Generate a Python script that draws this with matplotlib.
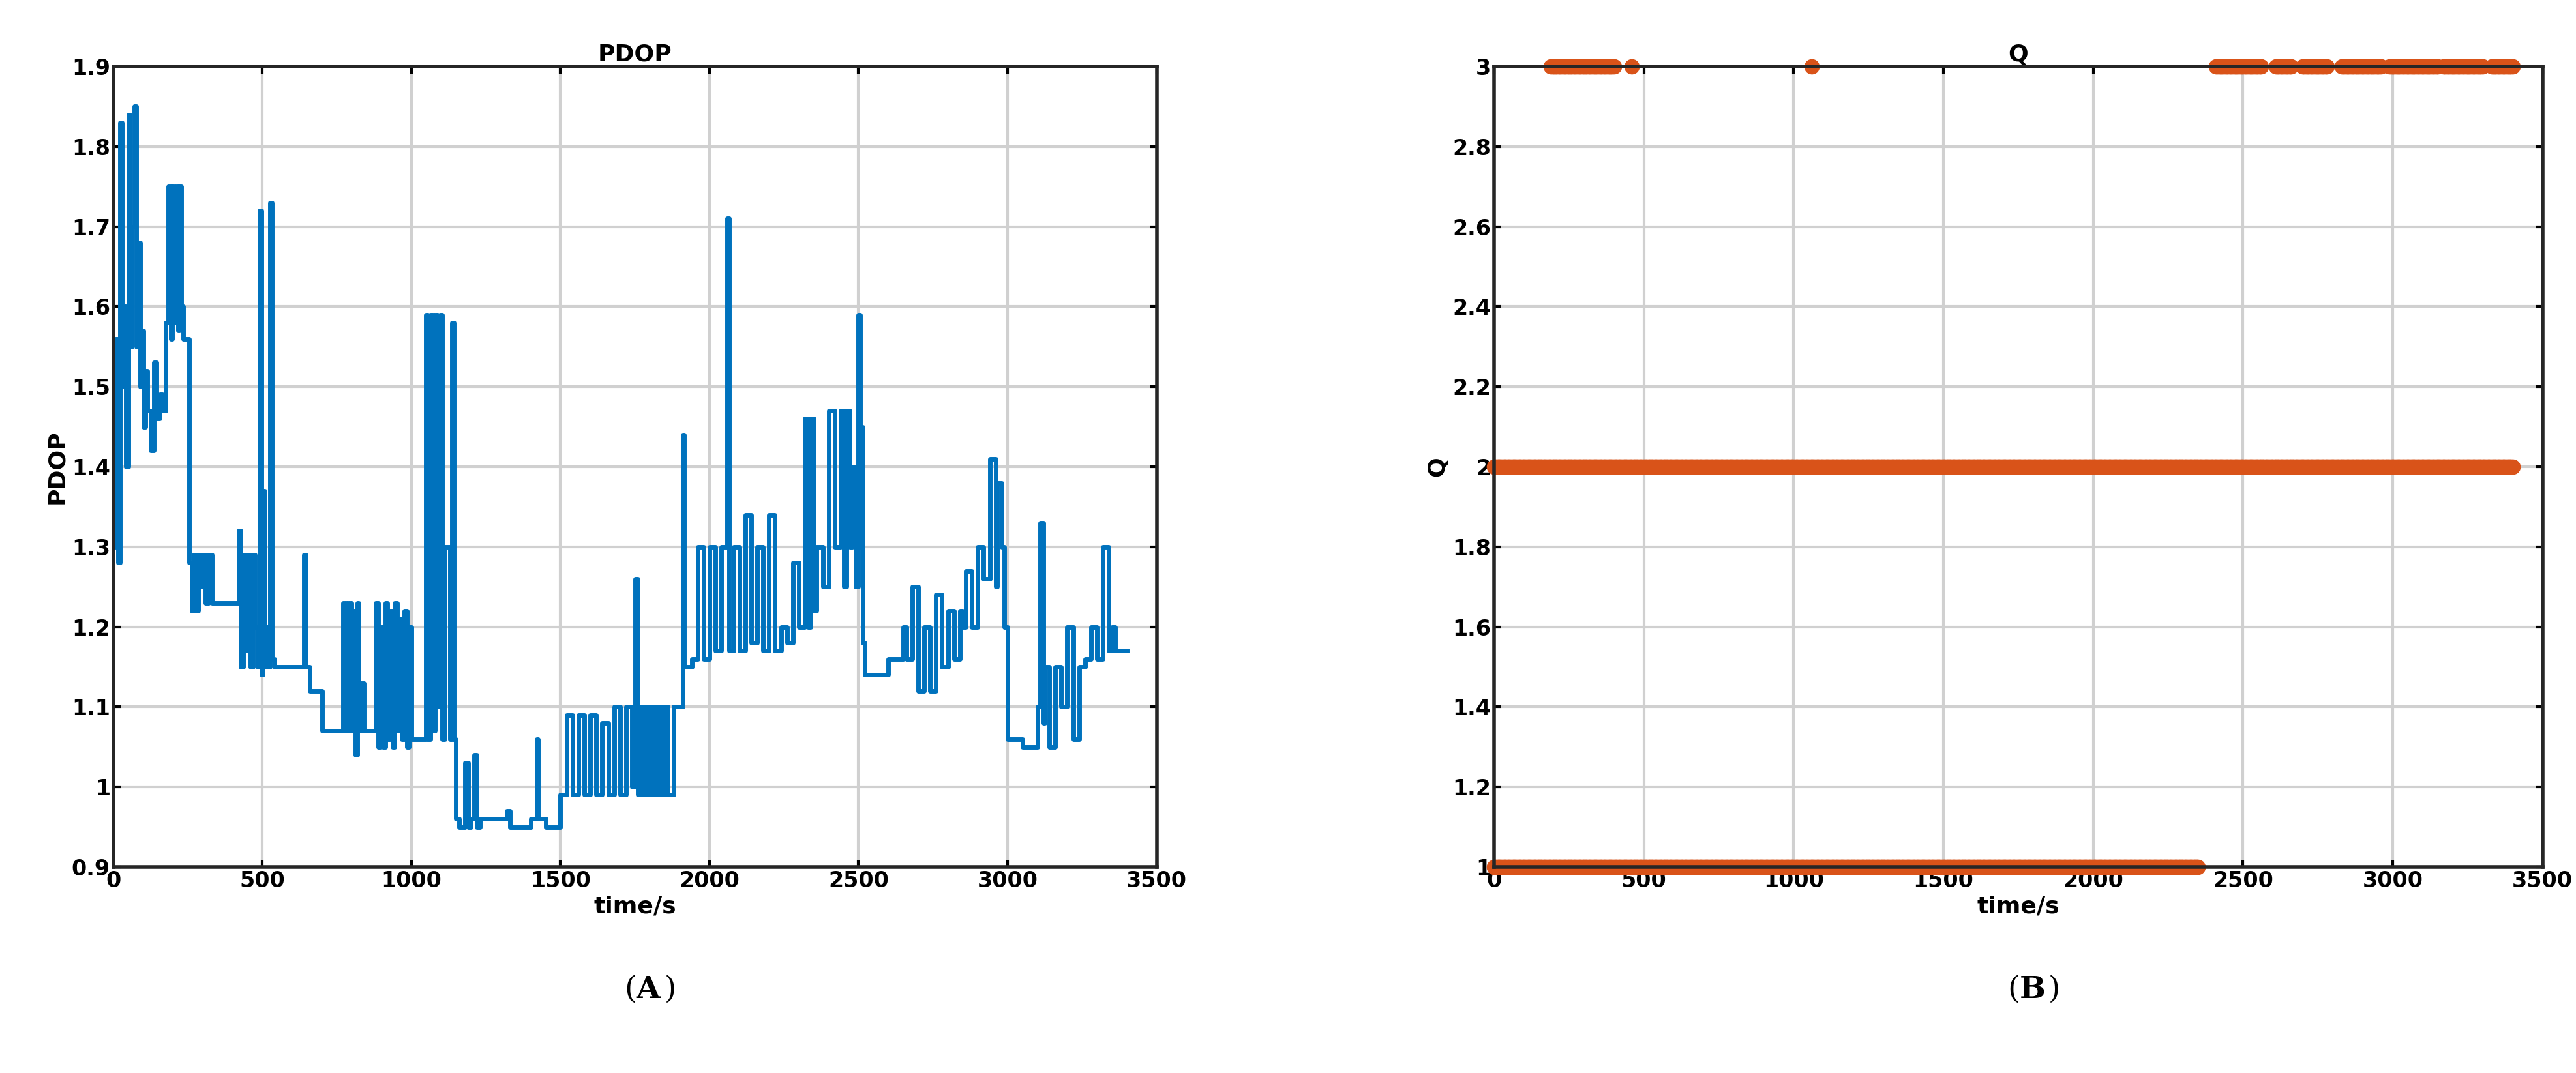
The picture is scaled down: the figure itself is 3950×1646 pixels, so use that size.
import numpy as np
import matplotlib
matplotlib.use("Agg")
import matplotlib.pyplot as plt

# PDOP step breakpoints (time s, value)
pdop_t = [0,8,15,22,28,35,42,50,56,62,70,78,84,90,96,102,108,115,125,135,145,155,165,175,185,192,198,204,210,216,222,228,235,245,255,262,270,278,285,292,300,310,320,330,360,400,420,428,436,444,452,460,468,476,484,490,496,502,508,514,520,526,532,540,600,640,645,660,700,760,770,776,782,788,794,800,806,812,818,824,830,840,870,880,888,896,904,912,920,928,936,944,952,960,968,976,984,992,1000,1040,1048,1056,1064,1072,1080,1088,1096,1104,1112,1130,1136,1142,1150,1160,1180,1190,1200,1210,1220,1230,1240,1300,1320,1330,1400,1420,1425,1450,1500,1520,1540,1560,1580,1600,1620,1640,1660,1680,1700,1720,1740,1750,1760,1770,1780,1790,1800,1810,1820,1830,1840,1850,1860,1880,1900,1910,1915,1940,1960,1980,2000,2020,2040,2060,2065,2080,2100,2120,2140,2160,2180,2200,2220,2240,2260,2280,2300,2320,2330,2340,2350,2360,2380,2400,2420,2440,2450,2460,2470,2480,2490,2500,2505,2510,2515,2520,2530,2600,2650,2660,2680,2700,2720,2740,2760,2780,2800,2820,2840,2850,2860,2880,2900,2920,2940,2960,2965,2980,2990,3000,3010,3050,3100,3110,3120,3125,3140,3160,3180,3200,3220,3240,3260,3280,3300,3320,3340,3350,3360,3380,3400]
pdop_v = [1.30,1.56,1.28,1.83,1.50,1.60,1.40,1.84,1.55,1.70,1.85,1.55,1.68,1.50,1.57,1.45,1.52,1.47,1.42,1.53,1.46,1.49,1.47,1.58,1.75,1.56,1.75,1.58,1.75,1.57,1.75,1.60,1.56,1.56,1.28,1.22,1.29,1.22,1.29,1.25,1.29,1.23,1.29,1.23,1.23,1.23,1.32,1.15,1.29,1.17,1.29,1.15,1.29,1.20,1.15,1.72,1.14,1.37,1.15,1.20,1.15,1.73,1.16,1.15,1.15,1.29,1.15,1.12,1.07,1.07,1.23,1.07,1.23,1.07,1.23,1.07,1.22,1.04,1.23,1.07,1.13,1.07,1.07,1.23,1.05,1.20,1.05,1.23,1.06,1.22,1.05,1.23,1.07,1.21,1.06,1.22,1.05,1.20,1.06,1.06,1.59,1.06,1.59,1.07,1.59,1.10,1.59,1.06,1.30,1.06,1.58,1.06,0.96,0.95,1.03,0.95,0.96,1.04,0.95,0.96,0.96,0.96,0.97,0.95,0.96,1.06,0.96,0.95,0.99,1.09,0.99,1.09,0.99,1.09,0.99,1.08,0.99,1.10,0.99,1.10,1.00,1.26,0.99,1.10,0.99,1.10,0.99,1.10,0.99,1.10,0.99,1.10,0.99,1.10,1.10,1.44,1.15,1.16,1.30,1.16,1.30,1.17,1.30,1.71,1.17,1.30,1.17,1.34,1.18,1.30,1.17,1.34,1.17,1.20,1.18,1.28,1.20,1.46,1.20,1.46,1.22,1.30,1.25,1.47,1.30,1.47,1.25,1.47,1.30,1.40,1.25,1.59,1.30,1.45,1.18,1.14,1.14,1.16,1.20,1.16,1.25,1.12,1.20,1.12,1.24,1.15,1.22,1.16,1.22,1.20,1.27,1.20,1.30,1.26,1.41,1.25,1.38,1.30,1.20,1.06,1.06,1.05,1.10,1.33,1.08,1.15,1.05,1.15,1.10,1.20,1.06,1.15,1.16,1.20,1.16,1.30,1.17,1.20,1.17,1.17,1.17]

# Q segments (start, end) for each level
q1_segments = [(0, 2350)]
q2_segments = [(0, 3400)]
q3_segments = [(190, 400), (460, 460), (1060, 1060), (2410, 2560), (2610, 2660), (2700, 2780), (2830, 2960), (2990, 3150), (3170, 3300), (3330, 3400)]

blue = "#0072BD"
orange = "#D95319"

fig = plt.figure(figsize=(39.5, 16.46), dpi=100)
ax1 = fig.add_axes([0.044, 0.192, 0.405, 0.746])
ax2 = fig.add_axes([0.58, 0.192, 0.407, 0.746])

ax1.plot(pdop_t, pdop_v, drawstyle="steps-post", color=blue, lw=5)
ax1.set_xlim(0, 3500); ax1.set_ylim(0.9, 1.9)
ax1.set_xticks(range(0, 3501, 500))
ax1.set_yticks(np.round(np.arange(0.9, 1.91, 0.1), 1))
ax1.set_yticklabels(["0.9", "1", "1.1", "1.2", "1.3", "1.4", "1.5", "1.6", "1.7", "1.8", "1.9"])
ax1.set_title("PDOP", fontsize=26, fontweight="bold")
ax1.set_xlabel("time/s", fontsize=26, fontweight="bold")
ax1.set_ylabel("PDOP", fontsize=26, fontweight="bold")

for level, segs in [(1, q1_segments), (2, q2_segments), (3, q3_segments)]:
    for s, e in segs:
        t = np.arange(s, e + 1, 5)
        ax2.plot(t, np.full(len(t), level), "o", color=orange, ms=16, mec=orange)
ax2.set_xlim(0, 3500); ax2.set_ylim(1, 3)
ax2.set_xticks(range(0, 3501, 500))
ax2.set_yticks(np.round(np.arange(1, 3.01, 0.2), 1))
ax2.set_yticklabels(["1", "1.2", "1.4", "1.6", "1.8", "2", "2.2", "2.4", "2.6", "2.8", "3"])
ax2.set_title("Q", fontsize=26, fontweight="bold")
ax2.set_xlabel("time/s", fontsize=26, fontweight="bold")
ax2.set_ylabel("Q", fontsize=26, fontweight="bold")

for ax in (ax1, ax2):
    ax.grid(True, color="#d0d0d0", lw=3)
    ax.set_axisbelow(True)
    for sp in ax.spines.values():
        sp.set_linewidth(4); sp.set_color("#262626"); sp.set_zorder(5)
    ax.tick_params(labelsize=24, width=3, length=8, direction="in", top=True, right=True)
    for lb in ax.get_xticklabels() + ax.get_yticklabels():
        lb.set_fontweight("bold")
for l in ax2.lines:
    l.set_clip_on(False)

fig.text(0.247, 0.07, "(", fontsize=34, ha="right", family="DejaVu Serif")
fig.text(0.247, 0.07, "A", fontsize=34, fontweight="bold", ha="left", family="DejaVu Serif")
fig.text(0.258, 0.07, ")", fontsize=34, family="DejaVu Serif")
fig.text(0.784, 0.07, "(", fontsize=34, ha="right", family="DejaVu Serif")
fig.text(0.784, 0.07, "B", fontsize=34, fontweight="bold", ha="left", family="DejaVu Serif")
fig.text(0.795, 0.07, ")", fontsize=34, family="DejaVu Serif")

fig.savefig("out.png", dpi=100)
